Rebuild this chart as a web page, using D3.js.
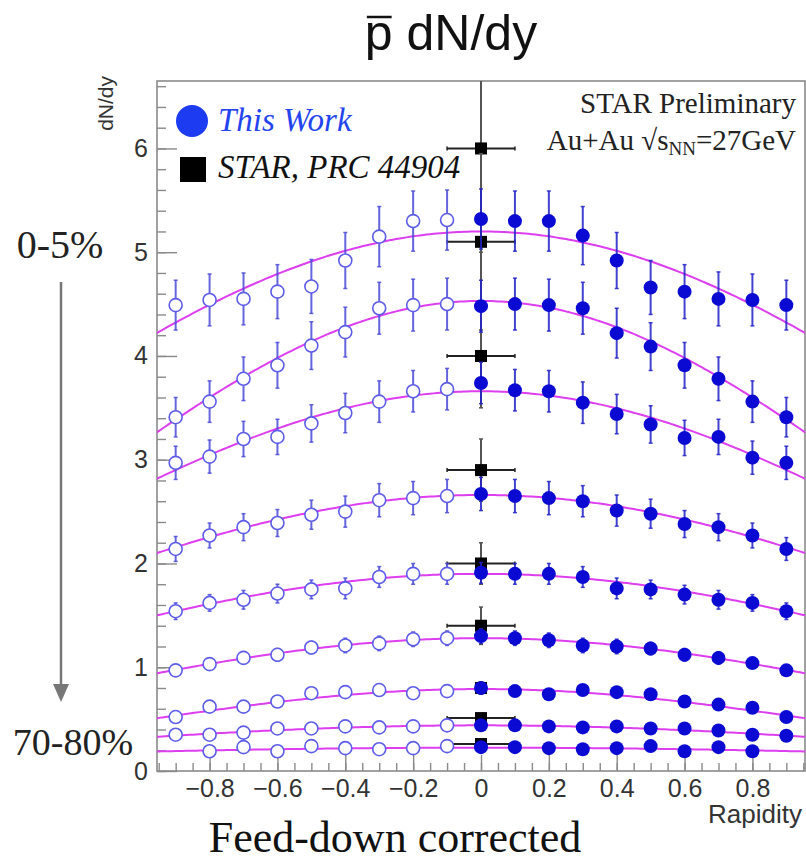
<!DOCTYPE html>
<html>
<head>
<meta charset="utf-8">
<script src="https://cdn.jsdelivr.net/npm/d3@7/dist/d3.min.js"></script>
<style>
  html, body { margin: 0; padding: 0; background: #fff; }
  svg { display: block; }
</style>
</head>
<body>
<svg id="chart" width="806" height="862"></svg>
<script>
// Rapidity bins (bin centres)
const rapidity = [-0.9, -0.8, -0.7, -0.6, -0.5, -0.4, -0.3, -0.2, -0.1, 0.0,
                  0.1, 0.2, 0.3, 0.4, 0.5, 0.6, 0.7, 0.8, 0.9];

// Centrality classes, most central first
const centralities = ["0-5%", "5-10%", "10-20%", "20-30%", "30-40%",
                      "40-50%", "50-60%", "60-70%", "70-80%"];

// Anti-proton dN/dy per centrality (this work)
const dndy_0_5   = [4.49, 4.54, 4.55, 4.62, 4.67, 4.92, 5.15, 5.30, 5.31, 5.32, 5.30, 5.30, 5.16, 4.92, 4.66, 4.62, 4.55, 4.54, 4.49];
const dndy_5_10  = [3.41, 3.56, 3.78, 3.91, 4.10, 4.23, 4.46, 4.49, 4.50, 4.48, 4.50, 4.49, 4.46, 4.22, 4.09, 3.91, 3.78, 3.56, 3.41];
const dndy_10_20 = [2.97, 3.03, 3.20, 3.22, 3.35, 3.45, 3.56, 3.66, 3.68, 3.74, 3.67, 3.66, 3.55, 3.44, 3.34, 3.21, 3.22, 3.02, 2.97];
const dndy_20_30 = [2.14, 2.27, 2.35, 2.39, 2.47, 2.50, 2.61, 2.63, 2.65, 2.67, 2.65, 2.63, 2.60, 2.51, 2.48, 2.38, 2.35, 2.27, 2.14];
const dndy_30_40 = [1.54, 1.62, 1.65, 1.71, 1.75, 1.76, 1.87, 1.90, 1.90, 1.91, 1.90, 1.90, 1.87, 1.76, 1.75, 1.70, 1.65, 1.62, 1.54];
const dndy_40_50 = [0.97, 1.03, 1.09, 1.12, 1.19, 1.21, 1.23, 1.27, 1.28, 1.30, 1.28, 1.26, 1.21, 1.20, 1.18, 1.12, 1.09, 1.04, 0.97];
const dndy_50_60 = [0.52, 0.62, 0.62, 0.67, 0.75, 0.76, 0.78, 0.75, 0.77, 0.80, 0.77, 0.74, 0.78, 0.76, 0.74, 0.67, 0.64, 0.61, 0.52];
const dndy_60_70 = [0.35, 0.35, 0.37, 0.41, 0.41, 0.43, 0.42, 0.43, 0.44, 0.44, 0.44, 0.43, 0.42, 0.43, 0.41, 0.41, 0.39, 0.35, 0.34];
const dndy_70_80 = [null, 0.19, 0.23, 0.19, 0.24, 0.22, 0.21, 0.22, 0.24, 0.23, 0.23, 0.22, 0.21, 0.22, 0.24, 0.19, 0.23, 0.19, null];

// Uncertainties on dN/dy
const err_0_5   = [0.24, 0.25, 0.25, 0.26, 0.26, 0.27, 0.29, 0.29, 0.29, 0.29, 0.29, 0.29, 0.28, 0.27, 0.26, 0.26, 0.26, 0.25, 0.24];
const err_5_10  = [0.19, 0.20, 0.21, 0.22, 0.23, 0.24, 0.25, 0.25, 0.25, 0.25, 0.25, 0.25, 0.25, 0.24, 0.23, 0.22, 0.21, 0.20, 0.19];
const err_10_20 = [0.16, 0.16, 0.17, 0.17, 0.18, 0.19, 0.20, 0.20, 0.20, 0.20, 0.20, 0.20, 0.20, 0.19, 0.18, 0.17, 0.17, 0.16, 0.16];
const err_20_30 = [0.12, 0.12, 0.13, 0.13, 0.14, 0.15, 0.16, 0.16, 0.16, 0.16, 0.16, 0.16, 0.15, 0.15, 0.14, 0.13, 0.13, 0.12, 0.11];
const err_30_40 = [0.08, 0.08, 0.09, 0.09, 0.09, 0.10, 0.10, 0.10, 0.10, 0.10, 0.10, 0.10, 0.10, 0.10, 0.09, 0.09, 0.09, 0.08, 0.08];
const err_40_50 = [0.05, 0.05, 0.06, 0.06, 0.06, 0.07, 0.07, 0.07, 0.07, 0.07, 0.07, 0.07, 0.07, 0.07, 0.06, 0.06, 0.06, 0.05, 0.05];
const err_50_60 = [0.04, 0.04, 0.04, 0.04, 0.04, 0.04, 0.04, 0.04, 0.04, 0.04, 0.04, 0.04, 0.04, 0.04, 0.04, 0.04, 0.04, 0.04, 0.04];
const err_60_70 = [0.03, 0.03, 0.03, 0.03, 0.03, 0.03, 0.03, 0.03, 0.03, 0.03, 0.03, 0.03, 0.03, 0.03, 0.03, 0.03, 0.03, 0.03, 0.03];
const err_70_80 = [0.02, 0.02, 0.02, 0.02, 0.02, 0.02, 0.02, 0.02, 0.02, 0.02, 0.02, 0.02, 0.02, 0.02, 0.02, 0.02, 0.02, 0.02, 0.02];

// Gaussian fit parameters per centrality: amplitude and width
const fitAmplitude = [5.20, 4.53, 3.66, 2.66, 1.90, 1.28, 0.79, 0.44, 0.225];
const fitSigma     = [1.48, 1.18, 1.32, 1.39, 1.39, 1.22, 1.02, 1.26, 1.60];

// Published STAR midrapidity values (PRC 44904)
const starValue = [6.0, 5.1, 4.0, 2.9, 2.0, 1.4, 0.8, 0.51, 0.26];
const starYErr  = [1.0, 0.85, 0.5, 0.3, 0.2, 0.18, 0.06, 0.04, 0.03];
const starXErr  = [0.1, 0.1, 0.1, 0.1, 0.1, 0.1, 0.0, 0.1, 0.1];

// Axis ticks
const yMajorTicks = [0, 1, 2, 3, 4, 5, 6];
const xMajorTicks = [-0.8, -0.6, -0.4, -0.2, 0, 0.2, 0.4, 0.6, 0.8];

const dndyAll = [dndy_0_5, dndy_5_10, dndy_10_20, dndy_20_30, dndy_30_40,
                 dndy_40_50, dndy_50_60, dndy_60_70, dndy_70_80];
const errAll  = [err_0_5, err_5_10, err_10_20, err_20_30, err_30_40,
                 err_40_50, err_50_60, err_60_70, err_70_80];

const svg = d3.select("#chart");
const plot = { left: 157, right: 805, top: 81, bottom: 771 };

const x = d3.scaleLinear().domain([-0.955, 0.955]).range([plot.left, plot.right]);
const y = d3.scaleLinear().domain([0, 6.65]).range([plot.bottom, plot.top]);

const sans = "'Liberation Sans', Arial, Helvetica, sans-serif";
const serif = "'Liberation Serif', 'Times New Roman', serif";

svg.append("defs").append("clipPath").attr("id", "plotClip")
  .append("rect")
  .attr("x", plot.left).attr("y", plot.top)
  .attr("width", plot.right - plot.left).attr("height", plot.bottom - plot.top);

// ---- Axes ----
const frameColor = "#8a8a8a";
const xMinor = d3.range(-0.95, 0.951, 0.05).map(v => +v.toFixed(2));
const yMinor = d3.range(0, 6.61, 0.2).map(v => +v.toFixed(1));

function styleAxis(g) {
  g.select(".domain").remove();
  g.selectAll(".tick line").attr("stroke", frameColor).attr("stroke-width", 1.4);
}

svg.append("g").attr("transform", `translate(0,${plot.bottom})`)
  .call(d3.axisBottom(x).tickValues(xMinor).tickSize(-8).tickFormat(""))
  .call(styleAxis);
svg.append("g").attr("transform", `translate(0,${plot.bottom})`)
  .call(d3.axisBottom(x).tickValues(xMajorTicks).tickSize(-16).tickPadding(8)
        .tickFormat(d => d === 0 ? "0" : d3.format(".1f")(d)))
  .call(styleAxis)
  .call(g => g.selectAll("text").attr("font-family", sans).attr("font-size", 25).attr("fill", "#333"));

svg.append("g").attr("transform", `translate(${plot.left},0)`)
  .call(d3.axisLeft(y).tickValues(yMinor).tickSize(-9).tickFormat(""))
  .call(styleAxis);
svg.append("g").attr("transform", `translate(${plot.left},0)`)
  .call(d3.axisLeft(y).tickValues(yMajorTicks).tickSize(-20).tickPadding(9).tickFormat(d3.format("d")))
  .call(styleAxis)
  .call(g => g.selectAll("text").attr("font-family", sans).attr("font-size", 25).attr("fill", "#333"));

// Frame
svg.append("rect")
  .attr("x", plot.left).attr("y", plot.top)
  .attr("width", plot.right - plot.left).attr("height", plot.bottom - plot.top)
  .attr("fill", "none").attr("stroke", frameColor).attr("stroke-width", 1.6);

// Axis titles
svg.append("text")
  .attr("transform", `translate(113,${plot.top - 5}) rotate(-90)`)
  .attr("text-anchor", "end")
  .attr("font-family", sans).attr("font-size", 21).attr("fill", "#333")
  .text("dN/dy");
svg.append("text")
  .attr("x", 802).attr("y", 823)
  .attr("text-anchor", "end")
  .attr("font-family", sans).attr("font-size", 26).attr("fill", "#333")
  .text("Rapidity");

const content = svg.append("g").attr("clip-path", "url(#plotClip)");

// ---- Gaussian fits ----
const fitGrid = d3.range(-0.96, 0.9601, 0.01);
const fitLine = d3.line().x(d => x(d[0])).y(d => y(d[1]));
fitAmplitude.forEach((a, i) => {
  const s = fitSigma[i];
  const pts = fitGrid.map(r => [r, a * Math.exp(-r * r / (2 * s * s))]);
  content.append("path")
    .attr("d", fitLine(pts))
    .attr("fill", "none")
    .attr("stroke", "#dd3ef0")
    .attr("stroke-width", 2);
});

// ---- STAR published points ----
const starG = content.append("g");
starValue.forEach((v, i) => {
  const cx = x(0), cy = y(v);
  const ye = starYErr[i], xe = starXErr[i];
  starG.append("line")
    .attr("x1", cx).attr("x2", cx)
    .attr("y1", y(v + ye)).attr("y2", y(v - ye))
    .attr("stroke", "#555").attr("stroke-width", 2);
  [v + ye, v - ye].forEach(e => starG.append("line")
    .attr("x1", cx - 2).attr("x2", cx + 2).attr("y1", y(e)).attr("y2", y(e))
    .attr("stroke", "#555").attr("stroke-width", 1.5));
  if (xe > 0) {
    starG.append("line")
      .attr("x1", x(-xe)).attr("x2", x(xe))
      .attr("y1", cy).attr("y2", cy)
      .attr("stroke", "#222").attr("stroke-width", 2);
    [-xe, xe].forEach(e => starG.append("line")
      .attr("x1", x(e)).attr("x2", x(e)).attr("y1", cy - 2).attr("y2", cy + 2)
      .attr("stroke", "#222").attr("stroke-width", 1.5));
  }
  starG.append("rect")
    .attr("x", cx - 6).attr("y", cy - 6)
    .attr("width", 12).attr("height", 12)
    .attr("fill", "#000");
});

// ---- This work: open (y<0) and filled (y>=0) markers with error bars ----
const blueFill = "#0a0ad2";
const blueOpen = "#5c5ce8";
dndyAll.forEach((series, i) => {
  const errs = errAll[i];
  const g = content.append("g");
  series.forEach((v, j) => {
    if (v === null) return;
    const r = rapidity[j];
    const open = r < 0;
    const cx = x(r), e = errs[j];
    const barColor = open ? "#4b4bd8" : "#2222c8";
    g.append("line")
      .attr("x1", cx).attr("x2", cx)
      .attr("y1", y(v + e)).attr("y2", y(v - e))
      .attr("stroke", barColor).attr("stroke-width", 2).attr("opacity", 0.85);
    [v + e, v - e].forEach(t => g.append("line")
      .attr("x1", cx - 2).attr("x2", cx + 2).attr("y1", y(t)).attr("y2", y(t))
      .attr("stroke", barColor).attr("stroke-width", 1.5).attr("opacity", 0.85));
    if (open) {
      g.append("circle").attr("cx", cx).attr("cy", y(v)).attr("r", 6.5)
        .attr("fill", "#fff").attr("stroke", blueOpen).attr("stroke-width", 1.6);
    } else {
      g.append("circle").attr("cx", cx).attr("cy", y(v)).attr("r", 7)
        .attr("fill", blueFill);
    }
  });
});

// ---- Legend ----
svg.append("circle").attr("cx", 192).attr("cy", 121).attr("r", 16).attr("fill", "#1d3cf2");
svg.append("text").attr("x", 218).attr("y", 131)
  .attr("font-family", serif).attr("font-style", "italic").attr("font-size", 33)
  .attr("fill", "#2344ee").text("This Work");
svg.append("rect").attr("x", 180).attr("y", 157).attr("width", 26).attr("height", 25).attr("fill", "#000");
svg.append("text").attr("x", 218).attr("y", 178)
  .attr("font-family", serif).attr("font-style", "italic").attr("font-size", 33)
  .attr("fill", "#111").text("STAR, PRC 44904");

// ---- Annotation (top right) ----
svg.append("text").attr("x", 796).attr("y", 113).attr("text-anchor", "end")
  .attr("font-family", serif).attr("font-size", 29).attr("fill", "#222")
  .text("STAR Preliminary");
const sys = svg.append("text").attr("x", 796).attr("y", 150).attr("text-anchor", "end")
  .attr("font-family", serif).attr("font-size", 29).attr("fill", "#222");
sys.append("tspan").text("Au+Au \u221As");
sys.append("tspan").attr("font-size", 19).attr("dy", 5).text("NN");
sys.append("tspan").attr("dy", -5).text("=27GeV");

// ---- Title with overlined p ----
const title = svg.append("text").attr("x", 451).attr("y", 50).attr("text-anchor", "middle")
  .attr("font-family", sans).attr("font-size", 50).attr("fill", "#111");
title.text("p dN/dy");
const tNode = title.node();
const p0 = tNode.getStartPositionOfChar(0).x;
const p1 = tNode.getEndPositionOfChar(0).x;
svg.append("line").attr("x1", p0 + 2).attr("x2", p1 - 1).attr("y1", 17).attr("y2", 17)
  .attr("stroke", "#111").attr("stroke-width", 2.5);

// ---- Centrality ordering arrow ----
svg.append("text").attr("x", 60).attr("y", 258).attr("text-anchor", "middle")
  .attr("font-family", serif).attr("font-size", 40).attr("fill", "#222").text("0-5%");
svg.append("line").attr("x1", 61).attr("x2", 61).attr("y1", 282).attr("y2", 688)
  .attr("stroke", "#777").attr("stroke-width", 2.5);
svg.append("path").attr("d", "M53,684 L69,684 L61,702 Z").attr("fill", "#777");
svg.append("text").attr("x", 73).attr("y", 755).attr("text-anchor", "middle")
  .attr("font-family", serif).attr("font-size", 38).attr("fill", "#222").text("70-80%");

// ---- Footer ----
svg.append("text").attr("x", 395).attr("y", 852).attr("text-anchor", "middle")
  .attr("font-family", serif).attr("font-size", 44).attr("fill", "#111")
  .text("Feed-down corrected");
</script>
</body>
</html>
